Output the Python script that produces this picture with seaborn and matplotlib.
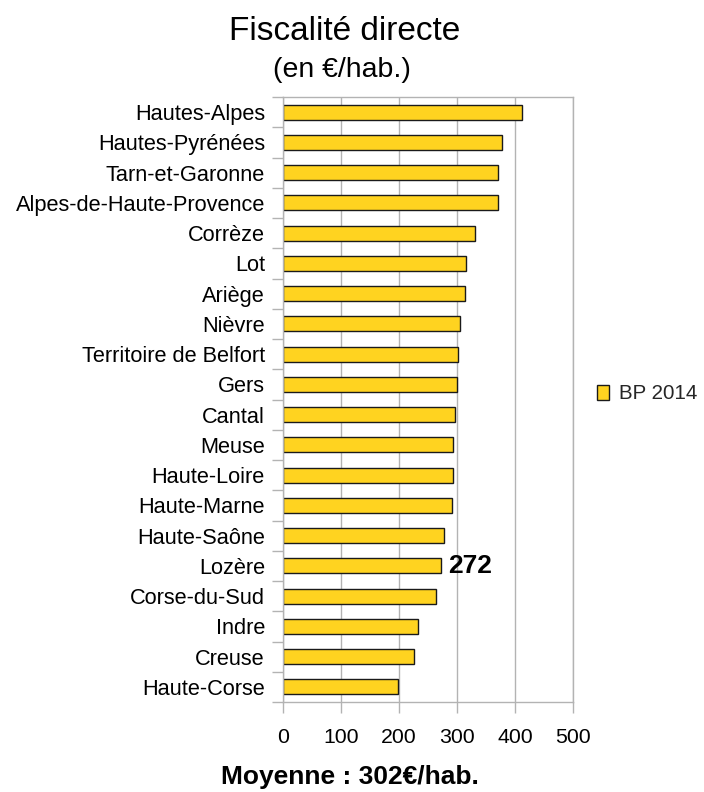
import matplotlib
matplotlib.use("Agg")
import matplotlib.pyplot as plt
import seaborn as sns
import pandas as pd
import numpy as np
from matplotlib.patches import Patch

categories = ["Hautes-Alpes", "Hautes-Pyrénées", "Tarn-et-Garonne", "Alpes-de-Haute-Provence",
              "Corrèze", "Lot", "Ariège", "Nièvre", "Territoire de Belfort", "Gers", "Cantal",
              "Meuse", "Haute-Loire", "Haute-Marne", "Haute-Saône", "Lozère", "Corse-du-Sud",
              "Indre", "Creuse", "Haute-Corse"]
values = [412, 377, 371, 371, 331, 316, 314, 305, 301, 300, 296, 293, 293, 291, 278, 272, 264,
          232, 226, 199]
series_name = "BP 2014"
highlight = "Lozère"
x_ticks = [0, 100, 200, 300, 400, 500]
title = "Fiscalité directe"
subtitle = "(en €/hab.)"
footer = "Moyenne : 302€/hab."

sns.set_theme(style="white")
plt.rcParams['font.family'] = ['Liberation Sans', 'DejaVu Sans']

df = pd.DataFrame({"dept": categories, "val": values})

fig = plt.figure(figsize=(7.04, 7.92), dpi=100)
ax = fig.add_axes([283/704, 1-702/792, 290/704, 605/792])

bar_color = "#FFD320"
sns.barplot(data=df, x="val", y="dept", color=bar_color, edgecolor="#1a1a1a",
            linewidth=1.0, width=0.5, saturation=1, ax=ax, orient="h")

ax.set_xlim(0, 500)
ax.set_ylim(len(categories)-0.5, -0.5)
ax.set_xticks(x_ticks)
ax.set_xticklabels([str(t) for t in x_ticks])
ax.set_xlabel("")
ax.set_ylabel("")
ax.grid(axis="x", color="#b3b3b3", linewidth=1.0)
ax.set_axisbelow(True)
for s in ax.spines.values():
    s.set_color("#b3b3b3")
    s.set_linewidth(1.0)

ax.tick_params(axis="x", which="major", length=8, width=1.0, color="#b3b3b3",
               labelsize=15.3, pad=10.5, bottom=True)
ax.set_yticks(np.arange(len(categories)+1) - 0.5, minor=True)
ax.tick_params(axis="y", which="minor", length=8, width=1.0, color="#b3b3b3", left=True)
ax.tick_params(axis="y", which="major", length=0, pad=13, labelsize=15.7, left=False)
for lab in ax.get_yticklabels() + ax.get_xticklabels():
    lab.set_color("black")

idx = categories.index(highlight)
ax.annotate(str(values[idx]), xy=(values[idx], idx), xytext=(5, 0),
            textcoords="offset points", ha="left", va="center",
            fontsize=19, fontweight="bold", color="black")

fig.text(345/704, 1-32/792, title, ha="center", va="center", fontsize=24, color="black")
fig.text(342/704, 1-70/792, subtitle, ha="center", va="center", fontsize=20.5, color="black")
fig.text(350/704, 1-777/792, footer, ha="center", va="center", fontsize=19,
         fontweight="bold", color="black")

handle = Patch(facecolor=bar_color, edgecolor="#1a1a1a", linewidth=1.0, label=series_name)
fig.legend(handles=[handle], loc="center left", bbox_to_anchor=(597/704, 1-394/792),
           frameon=False, fontsize=14.8, handlelength=0.6, handleheight=0.75,
           handletextpad=0.45, borderpad=0, borderaxespad=0)

fig.savefig("out.png", dpi=100)
